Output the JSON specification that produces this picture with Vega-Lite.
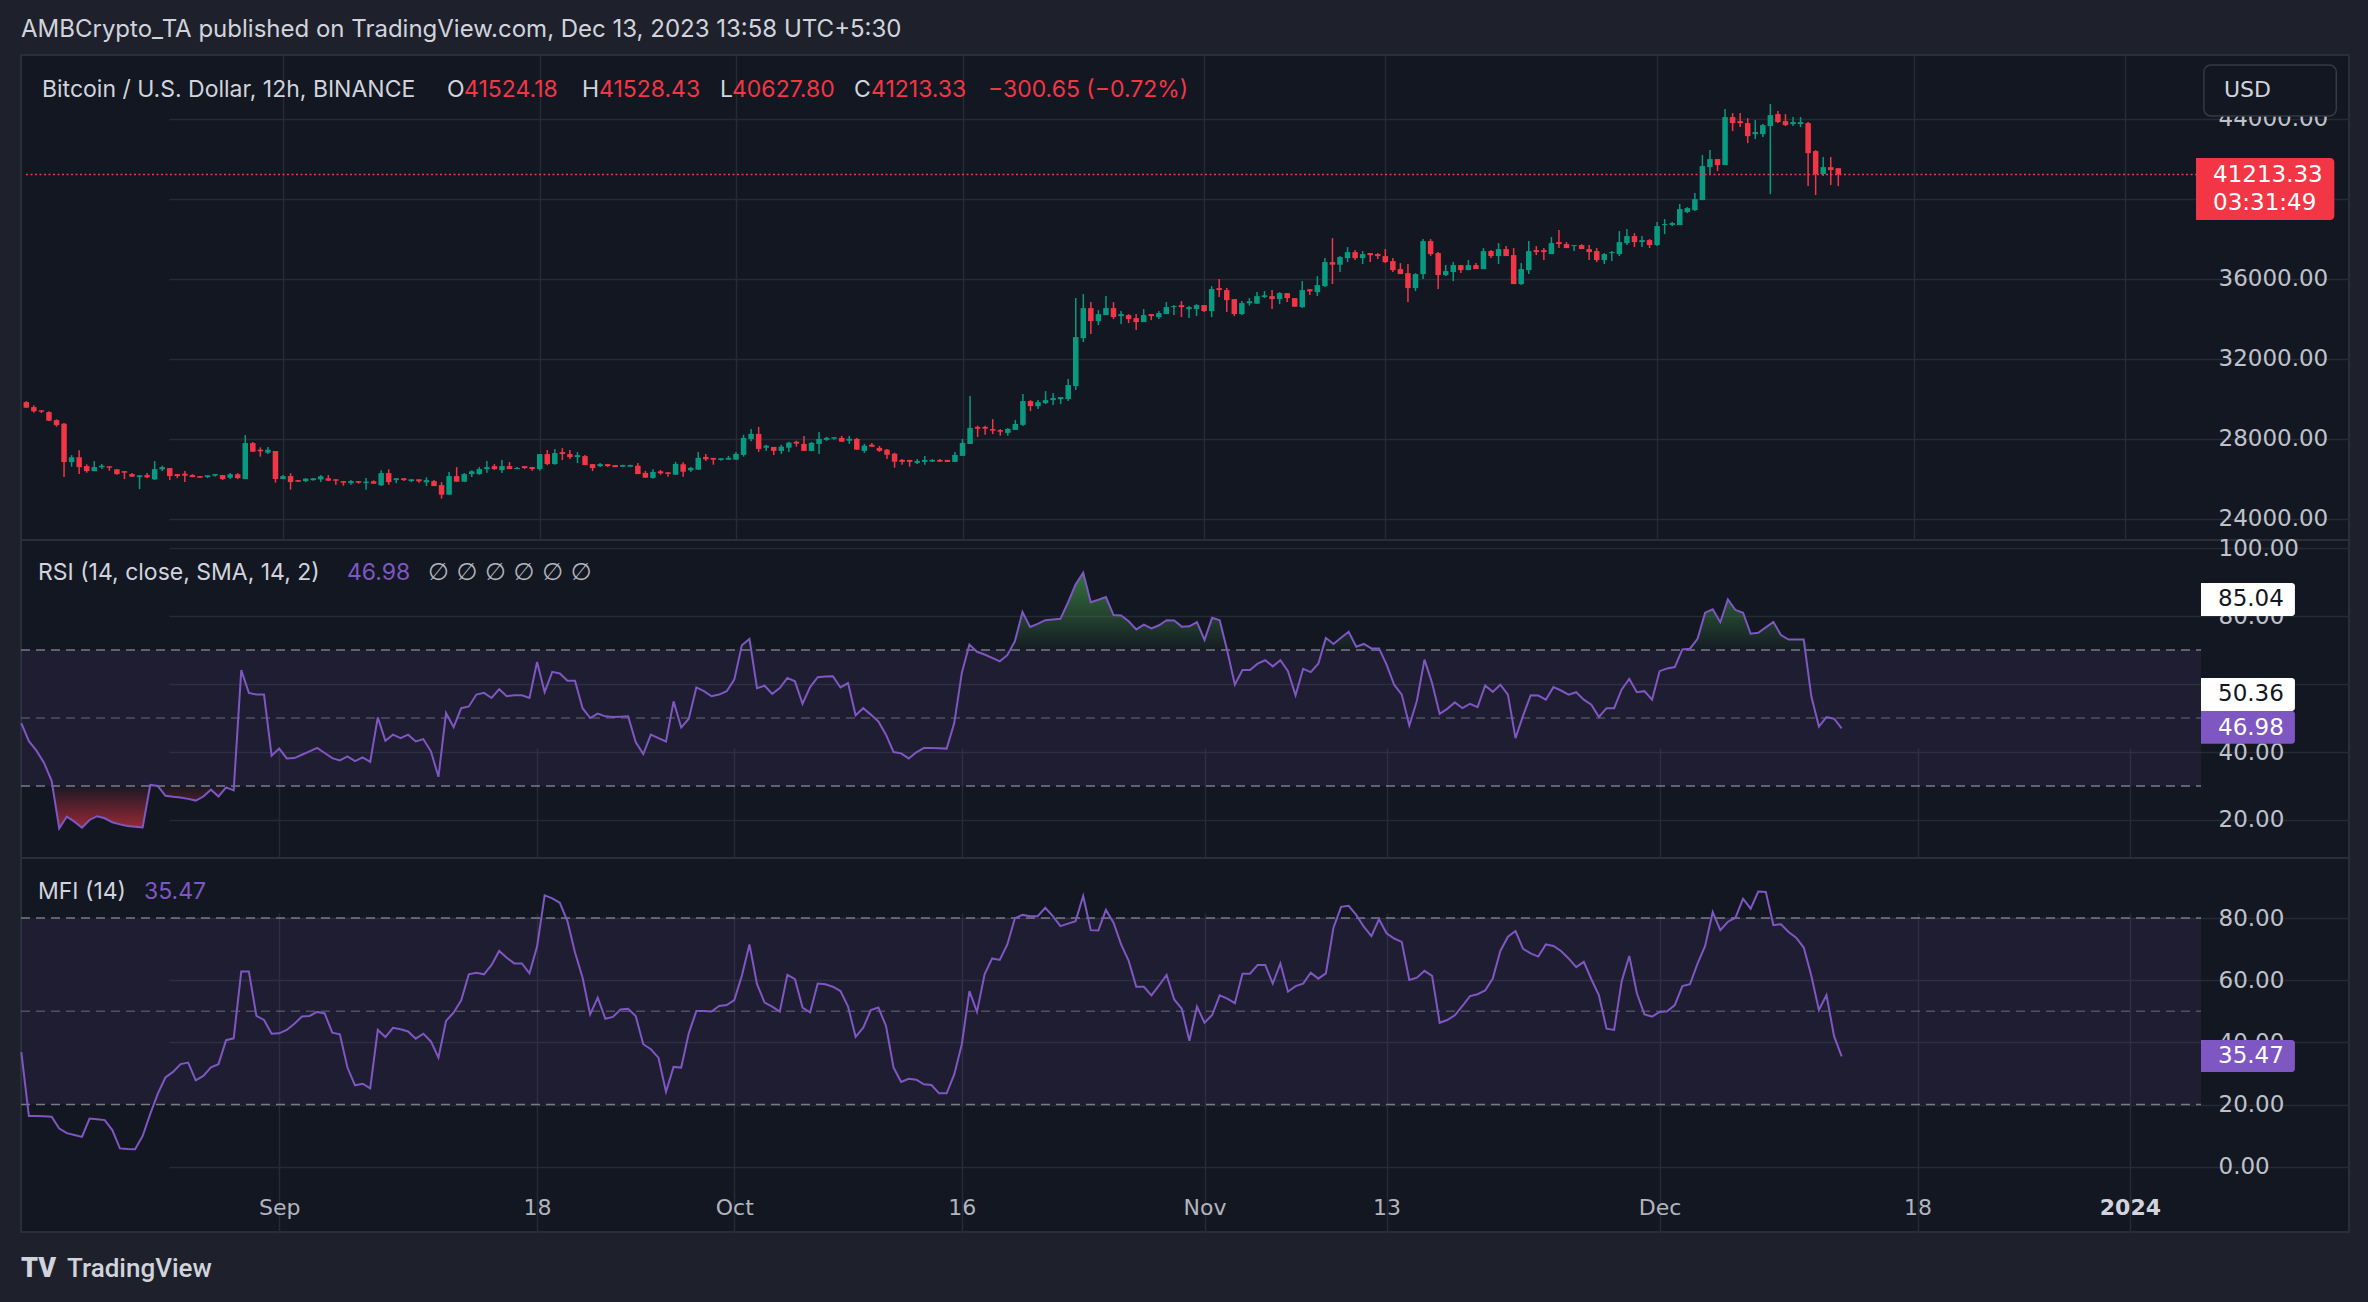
{
  "$schema": "https://vega.github.io/schema/vega-lite/v6.json",
  "background": "#1e212b",
  "padding": {"left": 16, "top": 18, "right": 20, "bottom": 22},
  "title": {"text": "AMBCrypto_TA published on TradingView.com, Dec 13, 2023 13:58 UTC+5:30", "anchor": "start", "frame": "group", "font": "Inter", "fontSize": 24, "fontWeight": "normal", "color": "#d1d4dc", "offset": 12},
  "bounds": "flush",
  "spacing": 0,
  "config": {
    "view": {"fill": "#131722", "stroke": "#2a2e39", "strokeWidth": 2},
    "axis": {"gridColor": "#262a35", "gridWidth": 1.5, "labelColor": "#bfc2ca", "labelFont": "DejaVu Sans", "labelFontSize": 23, "labelOverlap": false, "domain": false, "ticks": false},
    "text": {"font": "Inter", "fontSize": 23, "baseline": "middle", "align": "left"}
  },
  "datasets": {
    "btc": [
      {"t":"2023-08-15T00:00","o":29830,"h":29880,"l":29550,"c":29550,"rsi":48.5,"mfi":36.9},
      {"t":"2023-08-15T12:00","o":29580,"h":29670,"l":29300,"c":29370,"rsi":43.2,"mfi":16.3},
      {"t":"2023-08-16T00:00","o":29420,"h":29420,"l":29280,"c":29350,"rsi":40.4,"mfi":16.3},
      {"t":"2023-08-16T12:00","o":29330,"h":29370,"l":28880,"c":28900,"rsi":36.8,"mfi":16.2},
      {"t":"2023-08-17T00:00","o":28930,"h":28970,"l":28600,"c":28680,"rsi":31.5,"mfi":16.1},
      {"t":"2023-08-17T12:00","o":28750,"h":28780,"l":26080,"c":26830,"rsi":17.5,"mfi":12.3},
      {"t":"2023-08-18T00:00","o":26830,"h":27180,"l":26600,"c":27070,"rsi":21.0,"mfi":10.8},
      {"t":"2023-08-18T12:00","o":27070,"h":27420,"l":26230,"c":26580,"rsi":19.5,"mfi":10.2},
      {"t":"2023-08-19T00:00","o":26630,"h":26720,"l":26300,"c":26380,"rsi":17.7,"mfi":9.6},
      {"t":"2023-08-19T12:00","o":26380,"h":26880,"l":26380,"c":26580,"rsi":20.0,"mfi":15.5},
      {"t":"2023-08-20T00:00","o":26570,"h":26730,"l":26480,"c":26650,"rsi":21.1,"mfi":15.3},
      {"t":"2023-08-20T12:00","o":26620,"h":26620,"l":26400,"c":26550,"rsi":20.5,"mfi":15.0},
      {"t":"2023-08-21T00:00","o":26470,"h":26470,"l":26200,"c":26230,"rsi":19.3,"mfi":11.8},
      {"t":"2023-08-21T12:00","o":26380,"h":26380,"l":25980,"c":26300,"rsi":18.7,"mfi":5.9},
      {"t":"2023-08-22T00:00","o":26230,"h":26280,"l":26080,"c":26100,"rsi":18.2,"mfi":5.7},
      {"t":"2023-08-22T12:00","o":26080,"h":26170,"l":25480,"c":26170,"rsi":18.0,"mfi":5.6},
      {"t":"2023-08-23T00:00","o":26180,"h":26280,"l":26020,"c":26070,"rsi":17.8,"mfi":9.9},
      {"t":"2023-08-23T12:00","o":25970,"h":26880,"l":25930,"c":26480,"rsi":30.3,"mfi":17.0},
      {"t":"2023-08-24T00:00","o":26470,"h":26650,"l":26380,"c":26580,"rsi":30.0,"mfi":23.5},
      {"t":"2023-08-24T12:00","o":26530,"h":26530,"l":25930,"c":26130,"rsi":27.1,"mfi":28.7},
      {"t":"2023-08-25T00:00","o":26230,"h":26230,"l":26030,"c":26130,"rsi":26.8,"mfi":30.5},
      {"t":"2023-08-25T12:00","o":26250,"h":26380,"l":25830,"c":26150,"rsi":26.6,"mfi":33.0},
      {"t":"2023-08-26T00:00","o":26180,"h":26230,"l":26080,"c":26080,"rsi":26.2,"mfi":33.5},
      {"t":"2023-08-26T12:00","o":26130,"h":26130,"l":26050,"c":26050,"rsi":25.7,"mfi":27.8},
      {"t":"2023-08-27T00:00","o":26080,"h":26170,"l":26030,"c":26170,"rsi":26.9,"mfi":29.2},
      {"t":"2023-08-27T12:00","o":26150,"h":26230,"l":26100,"c":26230,"rsi":28.9,"mfi":32.0},
      {"t":"2023-08-28T00:00","o":26180,"h":26180,"l":25930,"c":25980,"rsi":26.9,"mfi":33.0},
      {"t":"2023-08-28T12:00","o":26050,"h":26280,"l":25980,"c":26220,"rsi":29.6,"mfi":40.7},
      {"t":"2023-08-29T00:00","o":26220,"h":26280,"l":25980,"c":26030,"rsi":28.7,"mfi":41.3},
      {"t":"2023-08-29T12:00","o":25980,"h":28180,"l":25980,"c":27780,"rsi":64.1,"mfi":62.8},
      {"t":"2023-08-30T00:00","o":27780,"h":27830,"l":27350,"c":27350,"rsi":57.4,"mfi":62.8},
      {"t":"2023-08-30T12:00","o":27450,"h":27570,"l":27100,"c":27370,"rsi":56.9,"mfi":48.5},
      {"t":"2023-08-31T00:00","o":27300,"h":27580,"l":27230,"c":27450,"rsi":56.9,"mfi":47.2},
      {"t":"2023-08-31T12:00","o":27380,"h":27380,"l":25800,"c":25980,"rsi":38.9,"mfi":42.8},
      {"t":"2023-09-01T00:00","o":25980,"h":26180,"l":25980,"c":26130,"rsi":41.0,"mfi":42.9},
      {"t":"2023-09-01T12:00","o":26130,"h":26280,"l":25450,"c":25830,"rsi":38.1,"mfi":44.0},
      {"t":"2023-09-02T00:00","o":25930,"h":25930,"l":25850,"c":25850,"rsi":38.2,"mfi":46.0},
      {"t":"2023-09-02T12:00","o":25880,"h":26030,"l":25830,"c":26000,"rsi":39.2,"mfi":48.3},
      {"t":"2023-09-03T00:00","o":25930,"h":26030,"l":25900,"c":26020,"rsi":40.2,"mfi":48.5},
      {"t":"2023-09-03T12:00","o":25970,"h":26180,"l":25830,"c":26120,"rsi":41.2,"mfi":49.8},
      {"t":"2023-09-04T00:00","o":26020,"h":26180,"l":25880,"c":25900,"rsi":39.7,"mfi":49.3},
      {"t":"2023-09-04T12:00","o":25970,"h":25970,"l":25700,"c":25900,"rsi":38.2,"mfi":43.1},
      {"t":"2023-09-05T00:00","o":25880,"h":25880,"l":25650,"c":25800,"rsi":37.5,"mfi":42.6},
      {"t":"2023-09-05T12:00","o":25780,"h":25930,"l":25700,"c":25880,"rsi":38.7,"mfi":31.9},
      {"t":"2023-09-06T00:00","o":25880,"h":25880,"l":25750,"c":25800,"rsi":37.3,"mfi":26.2},
      {"t":"2023-09-06T12:00","o":25780,"h":26030,"l":25450,"c":25850,"rsi":38.4,"mfi":26.7},
      {"t":"2023-09-07T00:00","o":25870,"h":25920,"l":25750,"c":25750,"rsi":37.1,"mfi":25.2},
      {"t":"2023-09-07T12:00","o":25670,"h":26420,"l":25630,"c":26280,"rsi":50.2,"mfi":44.0},
      {"t":"2023-09-08T00:00","o":26280,"h":26470,"l":25700,"c":25830,"rsi":43.3,"mfi":41.7},
      {"t":"2023-09-08T12:00","o":25930,"h":26030,"l":25780,"c":26020,"rsi":45.1,"mfi":44.7},
      {"t":"2023-09-09T00:00","o":26020,"h":26020,"l":25880,"c":25930,"rsi":44.1,"mfi":44.2},
      {"t":"2023-09-09T12:00","o":25880,"h":25980,"l":25830,"c":25970,"rsi":45.1,"mfi":43.5},
      {"t":"2023-09-10T00:00","o":25970,"h":25970,"l":25800,"c":25870,"rsi":43.1,"mfi":41.2},
      {"t":"2023-09-10T12:00","o":25820,"h":26070,"l":25630,"c":25930,"rsi":43.8,"mfi":42.8},
      {"t":"2023-09-11T00:00","o":25880,"h":25930,"l":25630,"c":25630,"rsi":40.2,"mfi":40.3},
      {"t":"2023-09-11T12:00","o":25680,"h":25830,"l":25000,"c":25200,"rsi":32.7,"mfi":35.1},
      {"t":"2023-09-12T00:00","o":25200,"h":26330,"l":25200,"c":26130,"rsi":51.5,"mfi":46.9},
      {"t":"2023-09-12T12:00","o":26130,"h":26580,"l":25850,"c":25850,"rsi":47.3,"mfi":49.6},
      {"t":"2023-09-13T00:00","o":25850,"h":26280,"l":25850,"c":26230,"rsi":52.9,"mfi":53.5},
      {"t":"2023-09-13T12:00","o":26230,"h":26420,"l":26080,"c":26370,"rsi":53.4,"mfi":61.9},
      {"t":"2023-09-14T00:00","o":26230,"h":26580,"l":26200,"c":26480,"rsi":56.9,"mfi":62.4},
      {"t":"2023-09-14T12:00","o":26480,"h":26880,"l":26300,"c":26580,"rsi":57.4,"mfi":61.9},
      {"t":"2023-09-15T00:00","o":26630,"h":26730,"l":26430,"c":26480,"rsi":55.9,"mfi":64.9},
      {"t":"2023-09-15T12:00","o":26430,"h":26930,"l":26280,"c":26630,"rsi":58.5,"mfi":69.4},
      {"t":"2023-09-16T00:00","o":26630,"h":26830,"l":26480,"c":26480,"rsi":56.4,"mfi":67.2},
      {"t":"2023-09-16T12:00","o":26480,"h":26580,"l":26480,"c":26540,"rsi":56.7,"mfi":65.4},
      {"t":"2023-09-17T00:00","o":26630,"h":26630,"l":26480,"c":26530,"rsi":56.7,"mfi":65.4},
      {"t":"2023-09-17T12:00","o":26580,"h":26580,"l":26400,"c":26480,"rsi":55.9,"mfi":62.2},
      {"t":"2023-09-18T00:00","o":26480,"h":27230,"l":26400,"c":27230,"rsi":66.5,"mfi":70.8},
      {"t":"2023-09-18T12:00","o":27230,"h":27430,"l":26680,"c":26730,"rsi":57.6,"mfi":87.3},
      {"t":"2023-09-19T00:00","o":26730,"h":27480,"l":26700,"c":27280,"rsi":63.6,"mfi":86.3},
      {"t":"2023-09-19T12:00","o":27330,"h":27530,"l":26930,"c":27230,"rsi":63.1,"mfi":84.9},
      {"t":"2023-09-20T00:00","o":27230,"h":27430,"l":26980,"c":27080,"rsi":61.0,"mfi":79.0},
      {"t":"2023-09-20T12:00","o":27080,"h":27330,"l":26780,"c":27180,"rsi":61.0,"mfi":68.9},
      {"t":"2023-09-21T00:00","o":27130,"h":27180,"l":26680,"c":26680,"rsi":52.9,"mfi":60.8},
      {"t":"2023-09-21T12:00","o":26730,"h":26730,"l":26380,"c":26530,"rsi":50.0,"mfi":49.0},
      {"t":"2023-09-22T00:00","o":26630,"h":26780,"l":26580,"c":26730,"rsi":51.3,"mfi":54.4},
      {"t":"2023-09-22T12:00","o":26730,"h":26730,"l":26580,"c":26630,"rsi":50.5,"mfi":47.6},
      {"t":"2023-09-23T00:00","o":26680,"h":26680,"l":26580,"c":26580,"rsi":50.3,"mfi":48.2},
      {"t":"2023-09-23T12:00","o":26600,"h":26700,"l":26600,"c":26680,"rsi":50.4,"mfi":50.6},
      {"t":"2023-09-24T00:00","o":26600,"h":26700,"l":26600,"c":26680,"rsi":50.5,"mfi":50.8},
      {"t":"2023-09-24T12:00","o":26650,"h":26780,"l":26230,"c":26230,"rsi":42.9,"mfi":48.5},
      {"t":"2023-09-25T00:00","o":26290,"h":26390,"l":26050,"c":26050,"rsi":39.4,"mfi":39.4},
      {"t":"2023-09-25T12:00","o":26040,"h":26470,"l":26000,"c":26340,"rsi":45.1,"mfi":37.8},
      {"t":"2023-09-26T00:00","o":26370,"h":26440,"l":26200,"c":26270,"rsi":44.1,"mfi":35.1},
      {"t":"2023-09-26T12:00","o":26320,"h":26320,"l":26100,"c":26240,"rsi":43.1,"mfi":24.1},
      {"t":"2023-09-27T00:00","o":26200,"h":26840,"l":26200,"c":26740,"rsi":54.9,"mfi":32.1},
      {"t":"2023-09-27T12:00","o":26720,"h":26820,"l":26100,"c":26350,"rsi":47.2,"mfi":31.9},
      {"t":"2023-09-28T00:00","o":26420,"h":26590,"l":26340,"c":26540,"rsi":49.8,"mfi":42.9},
      {"t":"2023-09-28T12:00","o":26450,"h":27340,"l":26450,"c":27040,"rsi":59.0,"mfi":50.1},
      {"t":"2023-09-29T00:00","o":27090,"h":27240,"l":26890,"c":26970,"rsi":57.9,"mfi":50.1},
      {"t":"2023-09-29T12:00","o":27040,"h":27040,"l":26700,"c":26950,"rsi":56.4,"mfi":49.9},
      {"t":"2023-09-30T00:00","o":26940,"h":27020,"l":26900,"c":27020,"rsi":56.9,"mfi":51.7},
      {"t":"2023-09-30T12:00","o":26950,"h":27140,"l":26950,"c":27040,"rsi":57.9,"mfi":52.0},
      {"t":"2023-10-01T00:00","o":26950,"h":27340,"l":26950,"c":27240,"rsi":61.3,"mfi":53.6},
      {"t":"2023-10-01T12:00","o":27190,"h":28200,"l":27100,"c":28040,"rsi":71.4,"mfi":61.4},
      {"t":"2023-10-02T00:00","o":27990,"h":28490,"l":27870,"c":28240,"rsi":73.3,"mfi":71.5},
      {"t":"2023-10-02T12:00","o":28240,"h":28590,"l":27340,"c":27490,"rsi":58.8,"mfi":58.7},
      {"t":"2023-10-03T00:00","o":27550,"h":27700,"l":27400,"c":27650,"rsi":59.5,"mfi":52.8},
      {"t":"2023-10-03T12:00","o":27590,"h":27590,"l":27190,"c":27390,"rsi":57.1,"mfi":51.5},
      {"t":"2023-10-04T00:00","o":27390,"h":27700,"l":27240,"c":27600,"rsi":58.8,"mfi":49.9},
      {"t":"2023-10-04T12:00","o":27550,"h":27850,"l":27340,"c":27800,"rsi":61.8,"mfi":61.7},
      {"t":"2023-10-05T00:00","o":27850,"h":27900,"l":27600,"c":27750,"rsi":60.8,"mfi":60.3},
      {"t":"2023-10-05T12:00","o":27740,"h":28140,"l":27390,"c":27390,"rsi":54.2,"mfi":51.2},
      {"t":"2023-10-06T00:00","o":27390,"h":27840,"l":27390,"c":27790,"rsi":59.1,"mfi":49.6},
      {"t":"2023-10-06T12:00","o":27740,"h":28340,"l":27240,"c":27990,"rsi":62.0,"mfi":58.9},
      {"t":"2023-10-07T00:00","o":27940,"h":28090,"l":27890,"c":28040,"rsi":62.2,"mfi":58.7},
      {"t":"2023-10-07T12:00","o":28000,"h":28070,"l":27950,"c":28070,"rsi":62.3,"mfi":57.9},
      {"t":"2023-10-08T00:00","o":28040,"h":28140,"l":27850,"c":27850,"rsi":59.0,"mfi":56.5},
      {"t":"2023-10-08T12:00","o":27900,"h":28140,"l":27740,"c":28000,"rsi":60.3,"mfi":51.5},
      {"t":"2023-10-09T00:00","o":27990,"h":28040,"l":27450,"c":27450,"rsi":50.8,"mfi":41.8},
      {"t":"2023-10-09T12:00","o":27390,"h":27740,"l":27290,"c":27650,"rsi":52.9,"mfi":44.7},
      {"t":"2023-10-10T00:00","o":27700,"h":27790,"l":27600,"c":27600,"rsi":51.0,"mfi":50.4},
      {"t":"2023-10-10T12:00","o":27540,"h":27640,"l":27340,"c":27390,"rsi":49.0,"mfi":51.2},
      {"t":"2023-10-11T00:00","o":27450,"h":27490,"l":26990,"c":27200,"rsi":45.1,"mfi":45.3},
      {"t":"2023-10-11T12:00","o":27250,"h":27300,"l":26550,"c":26850,"rsi":40.0,"mfi":31.9},
      {"t":"2023-10-12T00:00","o":26940,"h":26990,"l":26700,"c":26840,"rsi":39.6,"mfi":27.3},
      {"t":"2023-10-12T12:00","o":26940,"h":26940,"l":26600,"c":26840,"rsi":38.1,"mfi":28.3},
      {"t":"2023-10-13T00:00","o":26790,"h":26990,"l":26740,"c":26890,"rsi":39.9,"mfi":28.0},
      {"t":"2023-10-13T12:00","o":26840,"h":27140,"l":26700,"c":26940,"rsi":41.2,"mfi":26.5},
      {"t":"2023-10-14T00:00","o":26850,"h":26980,"l":26850,"c":26940,"rsi":41.2,"mfi":26.3},
      {"t":"2023-10-14T12:00","o":26940,"h":26980,"l":26850,"c":26850,"rsi":41.1,"mfi":23.6},
      {"t":"2023-10-15T00:00","o":26940,"h":26940,"l":26840,"c":26840,"rsi":41.0,"mfi":23.6},
      {"t":"2023-10-15T12:00","o":26840,"h":27340,"l":26840,"c":27190,"rsi":48.5,"mfi":29.7},
      {"t":"2023-10-16T00:00","o":27140,"h":27990,"l":27140,"c":27790,"rsi":63.3,"mfi":39.4},
      {"t":"2023-10-16T12:00","o":27740,"h":30130,"l":27740,"c":28540,"rsi":71.6,"mfi":56.5},
      {"t":"2023-10-17T00:00","o":28590,"h":28650,"l":28090,"c":28500,"rsi":69.5,"mfi":49.8},
      {"t":"2023-10-17T12:00","o":28590,"h":28650,"l":28200,"c":28500,"rsi":68.7,"mfi":61.9},
      {"t":"2023-10-18T00:00","o":28480,"h":28980,"l":28230,"c":28400,"rsi":67.7,"mfi":67.0},
      {"t":"2023-10-18T12:00","o":28430,"h":28480,"l":28150,"c":28350,"rsi":66.7,"mfi":66.5},
      {"t":"2023-10-19T00:00","o":28290,"h":28540,"l":28150,"c":28490,"rsi":68.5,"mfi":71.5},
      {"t":"2023-10-19T12:00","o":28440,"h":28940,"l":28440,"c":28740,"rsi":72.6,"mfi":79.9},
      {"t":"2023-10-20T00:00","o":28690,"h":30230,"l":28630,"c":29880,"rsi":81.2,"mfi":81.0},
      {"t":"2023-10-20T12:00","o":29880,"h":29930,"l":29380,"c":29630,"rsi":76.8,"mfi":80.6},
      {"t":"2023-10-21T00:00","o":29630,"h":29930,"l":29480,"c":29830,"rsi":77.7,"mfi":80.6},
      {"t":"2023-10-21T12:00","o":29780,"h":30380,"l":29730,"c":29930,"rsi":78.8,"mfi":83.3},
      {"t":"2023-10-22T00:00","o":29930,"h":30280,"l":29680,"c":30030,"rsi":79.0,"mfi":80.6},
      {"t":"2023-10-22T12:00","o":29980,"h":30080,"l":29730,"c":30080,"rsi":79.2,"mfi":77.4},
      {"t":"2023-10-23T00:00","o":29980,"h":30980,"l":29880,"c":30680,"rsi":84.0,"mfi":78.2},
      {"t":"2023-10-23T12:00","o":30630,"h":35030,"l":30430,"c":33080,"rsi":89.3,"mfi":79.0},
      {"t":"2023-10-24T00:00","o":33030,"h":35230,"l":32830,"c":34530,"rsi":92.8,"mfi":87.1},
      {"t":"2023-10-24T12:00","o":34530,"h":34830,"l":33230,"c":33880,"rsi":84.1,"mfi":76.1},
      {"t":"2023-10-25T00:00","o":33880,"h":34430,"l":33680,"c":34230,"rsi":84.8,"mfi":76.0},
      {"t":"2023-10-25T12:00","o":34180,"h":35130,"l":34180,"c":34530,"rsi":85.6,"mfi":82.6},
      {"t":"2023-10-26T00:00","o":34530,"h":34830,"l":33980,"c":34080,"rsi":80.3,"mfi":78.5},
      {"t":"2023-10-26T12:00","o":34130,"h":34380,"l":33730,"c":34230,"rsi":80.2,"mfi":71.5},
      {"t":"2023-10-27T00:00","o":34180,"h":34230,"l":33780,"c":33980,"rsi":78.5,"mfi":66.2},
      {"t":"2023-10-27T12:00","o":34030,"h":34230,"l":33430,"c":33830,"rsi":76.1,"mfi":57.9},
      {"t":"2023-10-28T00:00","o":33830,"h":34480,"l":33830,"c":34180,"rsi":77.5,"mfi":57.9},
      {"t":"2023-10-28T12:00","o":34230,"h":34230,"l":33930,"c":34130,"rsi":76.4,"mfi":55.1},
      {"t":"2023-10-29T00:00","o":34080,"h":34380,"l":33980,"c":34280,"rsi":77.3,"mfi":58.3},
      {"t":"2023-10-29T12:00","o":34230,"h":34830,"l":34230,"c":34580,"rsi":78.8,"mfi":61.7},
      {"t":"2023-10-30T00:00","o":34580,"h":34680,"l":34180,"c":34630,"rsi":78.7,"mfi":53.8},
      {"t":"2023-10-30T12:00","o":34680,"h":34880,"l":34080,"c":34580,"rsi":76.9,"mfi":50.8},
      {"t":"2023-10-31T00:00","o":34480,"h":34630,"l":34030,"c":34580,"rsi":77.0,"mfi":40.5},
      {"t":"2023-10-31T12:00","o":34480,"h":34730,"l":34130,"c":34680,"rsi":78.2,"mfi":51.5},
      {"t":"2023-11-01T00:00","o":34680,"h":34680,"l":34330,"c":34380,"rsi":73.0,"mfi":46.3},
      {"t":"2023-11-01T12:00","o":34380,"h":35630,"l":34080,"c":35480,"rsi":79.5,"mfi":48.8},
      {"t":"2023-11-02T00:00","o":35530,"h":35980,"l":35080,"c":35430,"rsi":78.8,"mfi":55.1},
      {"t":"2023-11-02T12:00","o":35430,"h":35530,"l":34330,"c":34930,"rsi":69.7,"mfi":54.1},
      {"t":"2023-11-03T00:00","o":34980,"h":34980,"l":34130,"c":34230,"rsi":59.8,"mfi":52.6},
      {"t":"2023-11-03T12:00","o":34230,"h":34880,"l":34180,"c":34780,"rsi":64.1,"mfi":62.1},
      {"t":"2023-11-04T00:00","o":34770,"h":35030,"l":34650,"c":34870,"rsi":64.1,"mfi":62.1},
      {"t":"2023-11-04T12:00","o":34750,"h":35330,"l":34750,"c":35130,"rsi":66.0,"mfi":64.9},
      {"t":"2023-11-05T00:00","o":35080,"h":35380,"l":35030,"c":35170,"rsi":67.0,"mfi":64.9},
      {"t":"2023-11-05T12:00","o":35130,"h":35430,"l":34480,"c":34980,"rsi":65.2,"mfi":58.9},
      {"t":"2023-11-06T00:00","o":34980,"h":35330,"l":34730,"c":35280,"rsi":67.0,"mfi":65.4},
      {"t":"2023-11-06T12:00","o":35280,"h":35280,"l":34830,"c":35030,"rsi":63.8,"mfi":56.3},
      {"t":"2023-11-07T00:00","o":35030,"h":35030,"l":34600,"c":34600,"rsi":56.7,"mfi":58.1},
      {"t":"2023-11-07T12:00","o":34580,"h":35880,"l":34530,"c":35430,"rsi":64.5,"mfi":58.9},
      {"t":"2023-11-08T00:00","o":35470,"h":35470,"l":35180,"c":35370,"rsi":63.5,"mfi":62.4},
      {"t":"2023-11-08T12:00","o":35330,"h":36130,"l":35130,"c":35680,"rsi":66.0,"mfi":60.5},
      {"t":"2023-11-09T00:00","o":35630,"h":37030,"l":35580,"c":36830,"rsi":73.6,"mfi":62.2},
      {"t":"2023-11-09T12:00","o":36830,"h":38030,"l":35730,"c":36700,"rsi":71.8,"mfi":76.9},
      {"t":"2023-11-10T00:00","o":36700,"h":37130,"l":36330,"c":37080,"rsi":73.6,"mfi":83.6},
      {"t":"2023-11-10T12:00","o":37030,"h":37580,"l":36830,"c":37330,"rsi":75.4,"mfi":83.9},
      {"t":"2023-11-11T00:00","o":37330,"h":37430,"l":36930,"c":37030,"rsi":71.0,"mfi":81.0},
      {"t":"2023-11-11T12:00","o":37030,"h":37380,"l":36730,"c":37230,"rsi":71.8,"mfi":77.2},
      {"t":"2023-11-12T00:00","o":37280,"h":37280,"l":36830,"c":37180,"rsi":70.5,"mfi":74.2},
      {"t":"2023-11-12T12:00","o":37230,"h":37280,"l":36980,"c":37130,"rsi":70.5,"mfi":79.6},
      {"t":"2023-11-13T00:00","o":37130,"h":37480,"l":36780,"c":36830,"rsi":65.7,"mfi":75.1},
      {"t":"2023-11-13T12:00","o":36880,"h":37030,"l":36330,"c":36430,"rsi":59.8,"mfi":73.4},
      {"t":"2023-11-14T00:00","o":36480,"h":36780,"l":36230,"c":36230,"rsi":56.9,"mfi":72.3},
      {"t":"2023-11-14T12:00","o":36280,"h":36730,"l":34830,"c":35530,"rsi":47.8,"mfi":60.1},
      {"t":"2023-11-15T00:00","o":35530,"h":36280,"l":35380,"c":36230,"rsi":55.1,"mfi":60.8},
      {"t":"2023-11-15T12:00","o":36230,"h":37980,"l":35980,"c":37880,"rsi":67.2,"mfi":63.0},
      {"t":"2023-11-16T00:00","o":37880,"h":37980,"l":37130,"c":37230,"rsi":60.3,"mfi":61.4},
      {"t":"2023-11-16T12:00","o":37280,"h":37330,"l":35480,"c":36180,"rsi":51.2,"mfi":46.3},
      {"t":"2023-11-17T00:00","o":36180,"h":36680,"l":36130,"c":36380,"rsi":52.7,"mfi":47.2},
      {"t":"2023-11-17T12:00","o":36330,"h":36830,"l":35880,"c":36680,"rsi":54.6,"mfi":48.7},
      {"t":"2023-11-18T00:00","o":36680,"h":36680,"l":36280,"c":36430,"rsi":52.9,"mfi":51.7},
      {"t":"2023-11-18T12:00","o":36430,"h":36930,"l":36430,"c":36680,"rsi":54.2,"mfi":54.9},
      {"t":"2023-11-19T00:00","o":36680,"h":36780,"l":36480,"c":36480,"rsi":53.2,"mfi":55.5},
      {"t":"2023-11-19T12:00","o":36480,"h":37530,"l":36480,"c":37380,"rsi":59.6,"mfi":56.7},
      {"t":"2023-11-20T00:00","o":37380,"h":37430,"l":37030,"c":37130,"rsi":57.7,"mfi":60.5},
      {"t":"2023-11-20T12:00","o":37130,"h":37780,"l":36730,"c":37480,"rsi":59.8,"mfi":69.4},
      {"t":"2023-11-21T00:00","o":37480,"h":37630,"l":37130,"c":37130,"rsi":56.9,"mfi":74.0},
      {"t":"2023-11-21T12:00","o":37180,"h":37530,"l":35730,"c":35730,"rsi":44.1,"mfi":75.8},
      {"t":"2023-11-22T00:00","o":35730,"h":36780,"l":35680,"c":36480,"rsi":50.7,"mfi":70.1},
      {"t":"2023-11-22T12:00","o":36430,"h":37880,"l":36230,"c":37380,"rsi":56.7,"mfi":68.6},
      {"t":"2023-11-23T00:00","o":37430,"h":37630,"l":37180,"c":37330,"rsi":56.6,"mfi":67.6},
      {"t":"2023-11-23T12:00","o":37430,"h":37530,"l":36930,"c":37330,"rsi":55.4,"mfi":71.5},
      {"t":"2023-11-24T00:00","o":37230,"h":38080,"l":37230,"c":37780,"rsi":59.1,"mfi":71.0},
      {"t":"2023-11-24T12:00","o":37830,"h":38430,"l":37530,"c":37730,"rsi":58.1,"mfi":69.4},
      {"t":"2023-11-25T00:00","o":37730,"h":37830,"l":37530,"c":37530,"rsi":56.9,"mfi":67.0},
      {"t":"2023-11-25T12:00","o":37630,"h":37690,"l":37380,"c":37680,"rsi":57.6,"mfi":64.2},
      {"t":"2023-11-26T00:00","o":37680,"h":37730,"l":37480,"c":37480,"rsi":55.4,"mfi":65.9},
      {"t":"2023-11-26T12:00","o":37480,"h":37680,"l":36930,"c":37330,"rsi":53.9,"mfi":60.3},
      {"t":"2023-11-27T00:00","o":37380,"h":37530,"l":36830,"c":36930,"rsi":50.3,"mfi":55.1},
      {"t":"2023-11-27T12:00","o":36930,"h":37280,"l":36730,"c":37230,"rsi":52.9,"mfi":44.4},
      {"t":"2023-11-28T00:00","o":37280,"h":37380,"l":36880,"c":37330,"rsi":52.9,"mfi":44.0},
      {"t":"2023-11-28T12:00","o":37230,"h":38380,"l":37130,"c":37830,"rsi":58.4,"mfi":59.7},
      {"t":"2023-11-29T00:00","o":37780,"h":38480,"l":37680,"c":38130,"rsi":61.5,"mfi":67.8},
      {"t":"2023-11-29T12:00","o":38130,"h":38280,"l":37580,"c":37830,"rsi":57.6,"mfi":55.8},
      {"t":"2023-11-30T00:00","o":37830,"h":38130,"l":37580,"c":37930,"rsi":57.9,"mfi":49.0},
      {"t":"2023-11-30T12:00","o":37930,"h":37980,"l":37530,"c":37680,"rsi":55.4,"mfi":48.3},
      {"t":"2023-12-01T00:00","o":37680,"h":38830,"l":37630,"c":38630,"rsi":63.8,"mfi":49.8},
      {"t":"2023-12-01T12:00","o":38680,"h":38980,"l":38230,"c":38730,"rsi":64.6,"mfi":50.0},
      {"t":"2023-12-02T00:00","o":38690,"h":38830,"l":38630,"c":38780,"rsi":65.0,"mfi":52.0},
      {"t":"2023-12-02T12:00","o":38680,"h":39730,"l":38680,"c":39480,"rsi":70.2,"mfi":58.1},
      {"t":"2023-12-03T00:00","o":39330,"h":39580,"l":39280,"c":39530,"rsi":70.4,"mfi":58.7},
      {"t":"2023-12-03T12:00","o":39430,"h":40280,"l":39380,"c":39980,"rsi":73.3,"mfi":65.3},
      {"t":"2023-12-04T00:00","o":39930,"h":42180,"l":39930,"c":41630,"rsi":81.0,"mfi":71.0},
      {"t":"2023-12-04T12:00","o":41580,"h":42430,"l":41180,"c":41980,"rsi":82.0,"mfi":81.9},
      {"t":"2023-12-05T00:00","o":41980,"h":41980,"l":41380,"c":41680,"rsi":78.2,"mfi":76.1},
      {"t":"2023-12-05T12:00","o":41680,"h":44480,"l":41680,"c":44080,"rsi":84.9,"mfi":78.8},
      {"t":"2023-12-06T00:00","o":44080,"h":44280,"l":43380,"c":43780,"rsi":81.8,"mfi":80.1},
      {"t":"2023-12-06T12:00","o":43880,"h":44280,"l":43580,"c":43780,"rsi":81.0,"mfi":86.2},
      {"t":"2023-12-07T00:00","o":43780,"h":44030,"l":42780,"c":43130,"rsi":74.8,"mfi":83.0},
      {"t":"2023-12-07T12:00","o":43230,"h":43930,"l":42980,"c":43330,"rsi":75.1,"mfi":88.5},
      {"t":"2023-12-08T00:00","o":43230,"h":43730,"l":43080,"c":43680,"rsi":76.7,"mfi":88.4},
      {"t":"2023-12-08T12:00","o":43630,"h":44730,"l":40230,"c":44180,"rsi":78.3,"mfi":77.7},
      {"t":"2023-12-09T00:00","o":44230,"h":44380,"l":43780,"c":43830,"rsi":74.4,"mfi":78.0},
      {"t":"2023-12-09T12:00","o":43880,"h":44230,"l":43630,"c":43680,"rsi":73.1,"mfi":75.5},
      {"t":"2023-12-10T00:00","o":43730,"h":44080,"l":43630,"c":43830,"rsi":73.1,"mfi":73.7},
      {"t":"2023-12-10T12:00","o":43730,"h":44080,"l":43580,"c":43830,"rsi":73.1,"mfi":70.5},
      {"t":"2023-12-11T00:00","o":43780,"h":43830,"l":40630,"c":42280,"rsi":56.4,"mfi":61.4},
      {"t":"2023-12-11T12:00","o":42380,"h":42430,"l":40180,"c":41230,"rsi":47.5,"mfi":50.4},
      {"t":"2023-12-12T00:00","o":41230,"h":42080,"l":41130,"c":41580,"rsi":50.3,"mfi":55.2},
      {"t":"2023-12-12T12:00","o":41580,"h":42080,"l":40680,"c":41430,"rsi":49.8,"mfi":42.0},
      {"t":"2023-12-13T00:00","o":41524.18,"h":41528.43,"l":40627.8,"c":41213.33,"rsi":46.98,"mfi":35.47}
    ]
  },
  "vconcat": [
    {
      "width": 2328,
      "height": 485,
      "layer": [
        {
          "data": {"name": "btc"},
          "encoding": {
            "x": {"field": "t", "type": "temporal",
              "scale": {"domain": [{"year": 2023, "month": 8, "date": 14, "hours": 23, "minutes": 31}, {"year": 2024, "month": 1, "date": 5, "hours": 16, "minutes": 31}], "range": [0, 2180]},
              "axis": {"values": [{"year": 2023, "month": 9, "date": 1}, {"year": 2023, "month": 9, "date": 18}, {"year": 2023, "month": 10, "date": 1}, {"year": 2023, "month": 10, "date": 16}, {"year": 2023, "month": 11, "date": 1}, {"year": 2023, "month": 11, "date": 13}, {"year": 2023, "month": 12, "date": 1}, {"year": 2023, "month": 12, "date": 18}, {"year": 2024, "month": 1, "date": 1}], "grid": true, "labels": false, "title": null}},
            "color": {"condition": {"test": "datum.c >= datum.o", "value": "#089981"}, "value": "#F23645"}
          },
          "layer": [
            {"mark": {"type": "rule", "strokeWidth": 1.5},
             "encoding": {
               "y": {"field": "l", "type": "quantitative", "scale": {"domain": [22935, 47185], "nice": false, "zero": false},
                 "axis": {"orient": "right", "offset": -148, "values": [24000, 28000, 32000, 36000, 40000, 44000], "format": ".2f", "labelExpr": "datum.value == 40000 ? '' : datum.label", "labelPadding": 17, "grid": true, "title": null}},
               "y2": {"field": "h"}}},
            {"mark": {"type": "bar", "width": 5.5},
             "encoding": {"y": {"field": "o", "type": "quantitative"}, "y2": {"field": "c"}}}
          ]
        },
        {
          "data": {"values": [{}]},
          "layer": [
            {"mark": {"type": "rule", "color": "#F23645", "strokeWidth": 1.5, "strokeDash": [2, 2.5]},
             "encoding": {"x": {"datum": {"year": 2023, "month": 8, "date": 14, "hours": 23, "minutes": 31}, "type": "temporal"}, "x2": {"datum": {"year": 2024, "month": 1, "date": 5, "hours": 16, "minutes": 31}}, "y": {"datum": 41213.33, "type": "quantitative"}}},
            {"mark": {"type": "rect", "fill": "#131722", "stroke": "#363a45", "strokeWidth": 1.5, "cornerRadius": 7},
             "encoding": {"x": {"datum": {"year": 2024, "month": 1, "date": 6, "hours": 5, "minutes": 2}, "type": "temporal"}, "x2": {"datum": {"year": 2024, "month": 1, "date": 14, "hours": 23, "minutes": 31}}, "y": {"datum": 46685, "type": "quantitative"}, "y2": {"datum": 44135}}},
            {"mark": {"type": "text", "text": "USD", "font": "DejaVu Sans", "fontSize": 22, "color": "#d1d4dc", "dx": 28},
             "encoding": {"x": {"datum": {"year": 2024, "month": 1, "date": 5, "hours": 16, "minutes": 31}, "type": "temporal"}, "y": {"datum": 45435, "type": "quantitative"}}},
            {"mark": {"type": "rect", "fill": "#F23645", "cornerRadiusTopRight": 4, "cornerRadiusBottomRight": 4},
             "encoding": {"x": {"datum": {"year": 2024, "month": 1, "date": 5, "hours": 16, "minutes": 31}, "type": "temporal"}, "x2": {"datum": {"year": 2024, "month": 1, "date": 14, "hours": 20, "minutes": 24}}, "y": {"datum": 42035, "type": "quantitative"}, "y2": {"datum": 38935}}},
            {"mark": {"type": "text", "text": "41213.33", "font": "DejaVu Sans", "fontSize": 23, "color": "#ffffff", "dx": 17},
             "encoding": {"x": {"datum": {"year": 2024, "month": 1, "date": 5, "hours": 16, "minutes": 31}, "type": "temporal"}, "y": {"datum": 41185, "type": "quantitative"}}},
            {"mark": {"type": "text", "text": "03:31:49", "font": "DejaVu Sans", "fontSize": 23, "color": "#ffffff", "dx": 17},
             "encoding": {"x": {"datum": {"year": 2024, "month": 1, "date": 5, "hours": 16, "minutes": 31}, "type": "temporal"}, "y": {"datum": 39785, "type": "quantitative"}}},
            {"encoding": {"x": {"datum": {"year": 2023, "month": 8, "date": 14, "hours": 23, "minutes": 31}, "type": "temporal"}, "y": {"datum": 45435, "type": "quantitative"}},
             "layer": [
               {"mark": {"type": "text", "text": "Bitcoin / U.S. Dollar, 12h, BINANCE", "color": "#d1d4dc", "dx": 16}},
               {"mark": {"type": "text", "text": "O", "color": "#d1d4dc", "dx": 421}},
               {"mark": {"type": "text", "text": "41524.18", "color": "#F23645", "dx": 438}},
               {"mark": {"type": "text", "text": "H", "color": "#d1d4dc", "dx": 556}},
               {"mark": {"type": "text", "text": "41528.43", "color": "#F23645", "dx": 573}},
               {"mark": {"type": "text", "text": "L", "color": "#d1d4dc", "dx": 694}},
               {"mark": {"type": "text", "text": "40627.80", "color": "#F23645", "dx": 706}},
               {"mark": {"type": "text", "text": "C", "color": "#d1d4dc", "dx": 828}},
               {"mark": {"type": "text", "text": "41213.33", "color": "#F23645", "dx": 845}},
               {"mark": {"type": "text", "text": "−300.65 (−0.72%)", "color": "#F23645", "dx": 962}}
             ]}
          ]
        }
      ]
    },
    {
      "width": 2328,
      "height": 318,
      "resolve": {"scale": {"y": "independent"}},
      "layer": [
        {
          "data": {"name": "btc"},
          "mark": {"type": "area", "color": {"gradient": "linear", "x1": 1, "x2": 1, "y1": 0, "y2": 1, "stops": [{"offset": 0, "color": "rgba(76,175,80,0.6)"}, {"offset": 1, "color": "rgba(76,175,80,0.03)"}]}},
          "encoding": {
            "x": {"field": "t", "type": "temporal",
              "scale": {"domain": [{"year": 2023, "month": 8, "date": 14, "hours": 23, "minutes": 31}, {"year": 2024, "month": 1, "date": 5, "hours": 16, "minutes": 31}], "range": [0, 2180]},
              "axis": {"values": [{"year": 2023, "month": 9, "date": 1}, {"year": 2023, "month": 9, "date": 18}, {"year": 2023, "month": 10, "date": 1}, {"year": 2023, "month": 10, "date": 16}, {"year": 2023, "month": 11, "date": 1}, {"year": 2023, "month": 11, "date": 13}, {"year": 2023, "month": 12, "date": 1}, {"year": 2023, "month": 12, "date": 18}, {"year": 2024, "month": 1, "date": 1}], "grid": true, "labels": false, "title": null}},
            "y": {"field": "rsi", "type": "quantitative", "scale": {"domain": [70, 102.4], "range": [110.07, 0], "clamp": true, "nice": false, "zero": false}, "axis": null},
            "y2": {"datum": 70}
          }
        },
        {
          "data": {"name": "btc"},
          "mark": {"type": "area", "color": {"gradient": "linear", "x1": 1, "x2": 1, "y1": 0, "y2": 1, "stops": [{"offset": 0, "color": "rgba(242,54,69,0.03)"}, {"offset": 1, "color": "rgba(242,54,69,0.6)"}]}},
          "encoding": {
            "x": {"field": "t", "type": "temporal"},
            "y": {"field": "rsi", "type": "quantitative", "scale": {"domain": [8.8, 30], "range": [318, 245.96], "clamp": true, "nice": false, "zero": false}, "axis": null},
            "y2": {"datum": 30}
          }
        },
        {
          "layer": [
            {"data": {"values": [{}]},
             "mark": {"type": "rect", "fill": "#7E57C2", "fillOpacity": 0.1},
             "encoding": {"x": {"datum": {"year": 2023, "month": 8, "date": 14, "hours": 23, "minutes": 31}, "type": "temporal"}, "x2": {"datum": {"year": 2024, "month": 1, "date": 5, "hours": 16, "minutes": 31}}, "y": {"datum": 70, "type": "quantitative"}, "y2": {"datum": 30}}},
            {"data": {"values": [{}]},
             "encoding": {"x": {"datum": {"year": 2023, "month": 8, "date": 14, "hours": 23, "minutes": 31}, "type": "temporal"}, "x2": {"datum": {"year": 2024, "month": 1, "date": 5, "hours": 16, "minutes": 31}}},
             "layer": [
               {"mark": {"type": "rule", "color": "#787b86", "strokeWidth": 1.5, "strokeDash": [9, 6]}, "encoding": {"y": {"datum": 70, "type": "quantitative"}}},
               {"mark": {"type": "rule", "color": "#787b86", "strokeWidth": 1.5, "strokeDash": [9, 6], "opacity": 0.55}, "encoding": {"y": {"datum": 50, "type": "quantitative"}}},
               {"mark": {"type": "rule", "color": "#787b86", "strokeWidth": 1.5, "strokeDash": [9, 6]}, "encoding": {"y": {"datum": 30, "type": "quantitative"}}}
             ]},
            {"data": {"name": "btc"},
             "mark": {"type": "line", "color": "#7E57C2", "strokeWidth": 2},
             "encoding": {
               "x": {"field": "t", "type": "temporal"},
               "y": {"field": "rsi", "type": "quantitative", "scale": {"domain": [8.8, 102.4], "nice": false, "zero": false},
                 "axis": {"orient": "right", "offset": -148, "values": [20, 40, 60, 80, 100], "format": ".2f", "labelExpr": "datum.value == 60 ? '' : datum.label", "labelPadding": 17, "grid": true, "title": null}}}},
            {"data": {"values": [{}]},
             "encoding": {"x": {"datum": {"year": 2024, "month": 1, "date": 5, "hours": 16, "minutes": 31}, "type": "temporal"}, "x2": {"datum": {"year": 2024, "month": 1, "date": 11, "hours": 21, "minutes": 7}}},
             "layer": [
               {"mark": {"type": "rect", "fill": "#ffffff", "cornerRadiusTopRight": 3, "cornerRadiusBottomRight": 3}, "encoding": {"y": {"datum": 89.75, "type": "quantitative"}, "y2": {"datum": 80.05}}},
               {"mark": {"type": "rect", "fill": "#ffffff", "cornerRadiusTopRight": 3, "cornerRadiusBottomRight": 3}, "encoding": {"y": {"datum": 61.8, "type": "quantitative"}, "y2": {"datum": 52.1}}},
               {"mark": {"type": "rect", "fill": "#7E57C2", "cornerRadiusTopRight": 3, "cornerRadiusBottomRight": 3}, "encoding": {"y": {"datum": 52.1, "type": "quantitative"}, "y2": {"datum": 42.4}}}
             ]},
            {"data": {"values": [{}]},
             "encoding": {"x": {"datum": {"year": 2024, "month": 1, "date": 5, "hours": 16, "minutes": 31}, "type": "temporal"}},
             "layer": [
               {"mark": {"type": "text", "text": "85.04", "font": "DejaVu Sans", "fontSize": 23, "color": "#131722", "dx": 17}, "encoding": {"y": {"datum": 85.04, "type": "quantitative"}}},
               {"mark": {"type": "text", "text": "50.36", "font": "DejaVu Sans", "fontSize": 23, "color": "#131722", "dx": 17}, "encoding": {"y": {"datum": 56.96, "type": "quantitative"}}},
               {"mark": {"type": "text", "text": "46.98", "font": "DejaVu Sans", "fontSize": 23, "color": "#ffffff", "dx": 17}, "encoding": {"y": {"datum": 47.2, "type": "quantitative"}}}
             ]},
            {"data": {"values": [{}]},
             "encoding": {"x": {"datum": {"year": 2023, "month": 8, "date": 14, "hours": 23, "minutes": 31}, "type": "temporal"}, "y": {"datum": 92.7, "type": "quantitative"}},
             "layer": [
               {"mark": {"type": "text", "text": "RSI (14, close, SMA, 14, 2)", "color": "#d1d4dc", "dx": 17}},
               {"mark": {"type": "text", "text": "46.98", "color": "#7E57C2", "dx": 326}},
               {"mark": {"type": "text", "text": "∅  ∅  ∅  ∅  ∅  ∅", "font": "DejaVu Sans", "fontSize": 24, "color": "#b2b5be", "dx": 407}}
             ]}
          ]
        }
      ]
    },
    {
      "width": 2328,
      "height": 374,
      "layer": [
        {"data": {"values": [{}]},
         "mark": {"type": "rect", "fill": "#7E57C2", "fillOpacity": 0.1},
         "encoding": {"x": {"datum": {"year": 2023, "month": 8, "date": 14, "hours": 23, "minutes": 31}, "type": "temporal"}, "x2": {"datum": {"year": 2024, "month": 1, "date": 5, "hours": 16, "minutes": 31}}, "y": {"datum": 80, "type": "quantitative"}, "y2": {"datum": 20}}},
        {"data": {"values": [{}]},
         "encoding": {"x": {"datum": {"year": 2023, "month": 8, "date": 14, "hours": 23, "minutes": 31}, "type": "temporal"}, "x2": {"datum": {"year": 2024, "month": 1, "date": 5, "hours": 16, "minutes": 31}}},
         "layer": [
           {"mark": {"type": "rule", "color": "#787b86", "strokeWidth": 1.5, "strokeDash": [9, 6]}, "encoding": {"y": {"datum": 80, "type": "quantitative"}}},
           {"mark": {"type": "rule", "color": "#787b86", "strokeWidth": 1.5, "strokeDash": [9, 6], "opacity": 0.55}, "encoding": {"y": {"datum": 50, "type": "quantitative"}}},
           {"mark": {"type": "rule", "color": "#787b86", "strokeWidth": 1.5, "strokeDash": [9, 6]}, "encoding": {"y": {"datum": 20, "type": "quantitative"}}}
         ]},
        {"data": {"name": "btc"},
         "mark": {"type": "line", "color": "#7E57C2", "strokeWidth": 2},
         "encoding": {
           "x": {"field": "t", "type": "temporal",
             "scale": {"domain": [{"year": 2023, "month": 8, "date": 14, "hours": 23, "minutes": 31}, {"year": 2024, "month": 1, "date": 5, "hours": 16, "minutes": 31}], "range": [0, 2180]},
             "axis": {"values": [{"year": 2023, "month": 9, "date": 1}, {"year": 2023, "month": 9, "date": 18}, {"year": 2023, "month": 10, "date": 1}, {"year": 2023, "month": 10, "date": 16}, {"year": 2023, "month": 11, "date": 1}, {"year": 2023, "month": 11, "date": 13}, {"year": 2023, "month": 12, "date": 1}, {"year": 2023, "month": 12, "date": 18}, {"year": 2024, "month": 1, "date": 1}],
               "grid": true, "offset": -55, "labelPadding": 20, "labelFlush": false, "labelFontSize": 22, "title": null,
               "labelExpr": "date(datum.value) == 1 ? (month(datum.value) == 0 ? timeFormat(datum.value, '%Y') : timeFormat(datum.value, '%b')) : timeFormat(datum.value, '%-d')",
               "labelFontWeight": {"condition": {"test": "month(datum.value) == 0", "value": "bold"}, "value": "normal"},
               "labelColor": {"condition": {"test": "month(datum.value) == 0", "value": "#d1d4dc"}, "value": "#b2b5be"}}},
           "y": {"field": "mfi", "type": "quantitative", "scale": {"domain": [-3.3, 99.3], "range": [319, 0], "nice": false, "zero": false},
             "axis": {"orient": "right", "offset": -148, "values": [0, 20, 40, 60, 80], "format": ".2f", "labelPadding": 17, "grid": true, "title": null}}}},
        {"data": {"values": [{}]},
         "mark": {"type": "rect", "fill": "#7E57C2", "cornerRadiusTopRight": 3, "cornerRadiusBottomRight": 3},
         "encoding": {"x": {"datum": {"year": 2024, "month": 1, "date": 5, "hours": 16, "minutes": 31}, "type": "temporal"}, "x2": {"datum": {"year": 2024, "month": 1, "date": 11, "hours": 21, "minutes": 7}}, "y": {"datum": 40.76, "type": "quantitative"}, "y2": {"datum": 30.47}}},
        {"data": {"values": [{}]},
         "mark": {"type": "text", "text": "35.47", "font": "DejaVu Sans", "fontSize": 23, "color": "#ffffff", "dx": 17},
         "encoding": {"x": {"datum": {"year": 2024, "month": 1, "date": 5, "hours": 16, "minutes": 31}, "type": "temporal"}, "y": {"datum": 35.47, "type": "quantitative"}}},
        {"data": {"values": [{}]},
         "encoding": {"x": {"datum": {"year": 2023, "month": 8, "date": 14, "hours": 23, "minutes": 31}, "type": "temporal"}, "y": {"datum": 88.4, "type": "quantitative"}},
         "layer": [
           {"mark": {"type": "text", "text": "MFI (14)", "color": "#d1d4dc", "dx": 17}},
           {"mark": {"type": "text", "text": "35.47", "color": "#7E57C2", "dx": 123}}
         ]},
        {"data": {"values": [{}]},
         "encoding": {"x": {"datum": {"year": 2023, "month": 8, "date": 14, "hours": 23, "minutes": 31}, "type": "temporal"}, "y": {"datum": -32.9, "type": "quantitative"}},
         "layer": [
           {"mark": {"type": "text", "text": "TV", "font": "Roboto", "fontSize": 27, "fontWeight": 900, "color": "#d1d4dc", "dx": 0}},
           {"mark": {"type": "text", "text": "TradingView", "font": "Roboto", "fontSize": 26, "fontWeight": 500, "color": "#d1d4dc", "dx": 46}}
         ]}
      ]
    }
  ]
}
